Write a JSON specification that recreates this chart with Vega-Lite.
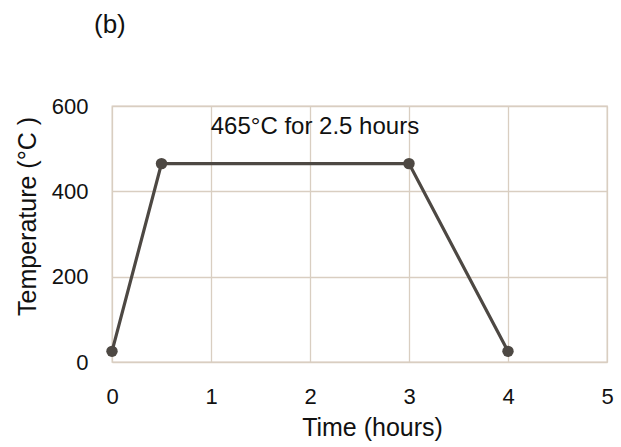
{
  "$schema": "https://vega.github.io/schema/vega-lite/v6.json",
  "width": 495,
  "height": 256,
  "autosize": "none",
  "padding": {"left": 112, "top": 106, "right": 14, "bottom": 85},
  "background": "white",
  "config": {
    "font": "Liberation Sans",
    "view": {"stroke": "#D9CEC1", "strokeWidth": 1.3}
  },
  "title": {
    "text": "(b)",
    "anchor": "start",
    "frame": "group",
    "dx": -18,
    "offset": 57,
    "fontSize": 26,
    "fontWeight": "normal",
    "color": "#111111"
  },
  "datasets": {
    "profile": [
      {"time": 0, "temp": 25},
      {"time": 0.5, "temp": 465},
      {"time": 3, "temp": 465},
      {"time": 4, "temp": 25}
    ],
    "note": [
      {"time": 2.05, "temp": 550, "label": "465°C for 2.5 hours"}
    ]
  },
  "layer": [
    {
      "data": {"name": "profile"},
      "mark": {"type": "line", "color": "#4D4843", "strokeWidth": 3.2, "point": {"filled": true, "size": 130, "color": "#4D4843"}},
      "encoding": {
        "x": {
          "field": "time", "type": "quantitative",
          "scale": {"domain": [0, 5], "nice": false},
          "axis": {
            "title": "Time (hours)", "values": [0, 1, 2, 3, 4, 5], "format": "d",
            "grid": true, "gridColor": "#D9CEC1", "gridWidth": 1.3,
            "domain": false, "ticks": false, "labelFlush": false, "labelOverlap": false,
            "labelFontSize": 22, "labelPadding": 24, "labelColor": "#111111",
            "titleFontSize": 25, "titleFontWeight": "normal", "titleColor": "#111111", "titlePadding": 8,
            "titleX": 260
          }
        },
        "y": {
          "field": "temp", "type": "quantitative",
          "scale": {"domain": [0, 600], "nice": false},
          "axis": {
            "title": "Temperature (°C )", "values": [0, 200, 400, 600], "format": "d",
            "grid": true, "gridColor": "#D9CEC1", "gridWidth": 1.3,
            "domain": false, "ticks": false, "labelFlush": false, "labelOverlap": false,
            "labelFontSize": 22, "labelPadding": 24, "labelColor": "#111111",
            "titleFontSize": 25, "titleFontWeight": "normal", "titleColor": "#111111", "titlePadding": 11,
            "titleY": 110
          }
        }
      }
    },
    {
      "data": {"name": "note"},
      "mark": {"type": "text", "fontSize": 24, "color": "#111111"},
      "encoding": {
        "x": {"field": "time", "type": "quantitative"},
        "y": {"field": "temp", "type": "quantitative"},
        "text": {"field": "label"}
      }
    }
  ]
}
